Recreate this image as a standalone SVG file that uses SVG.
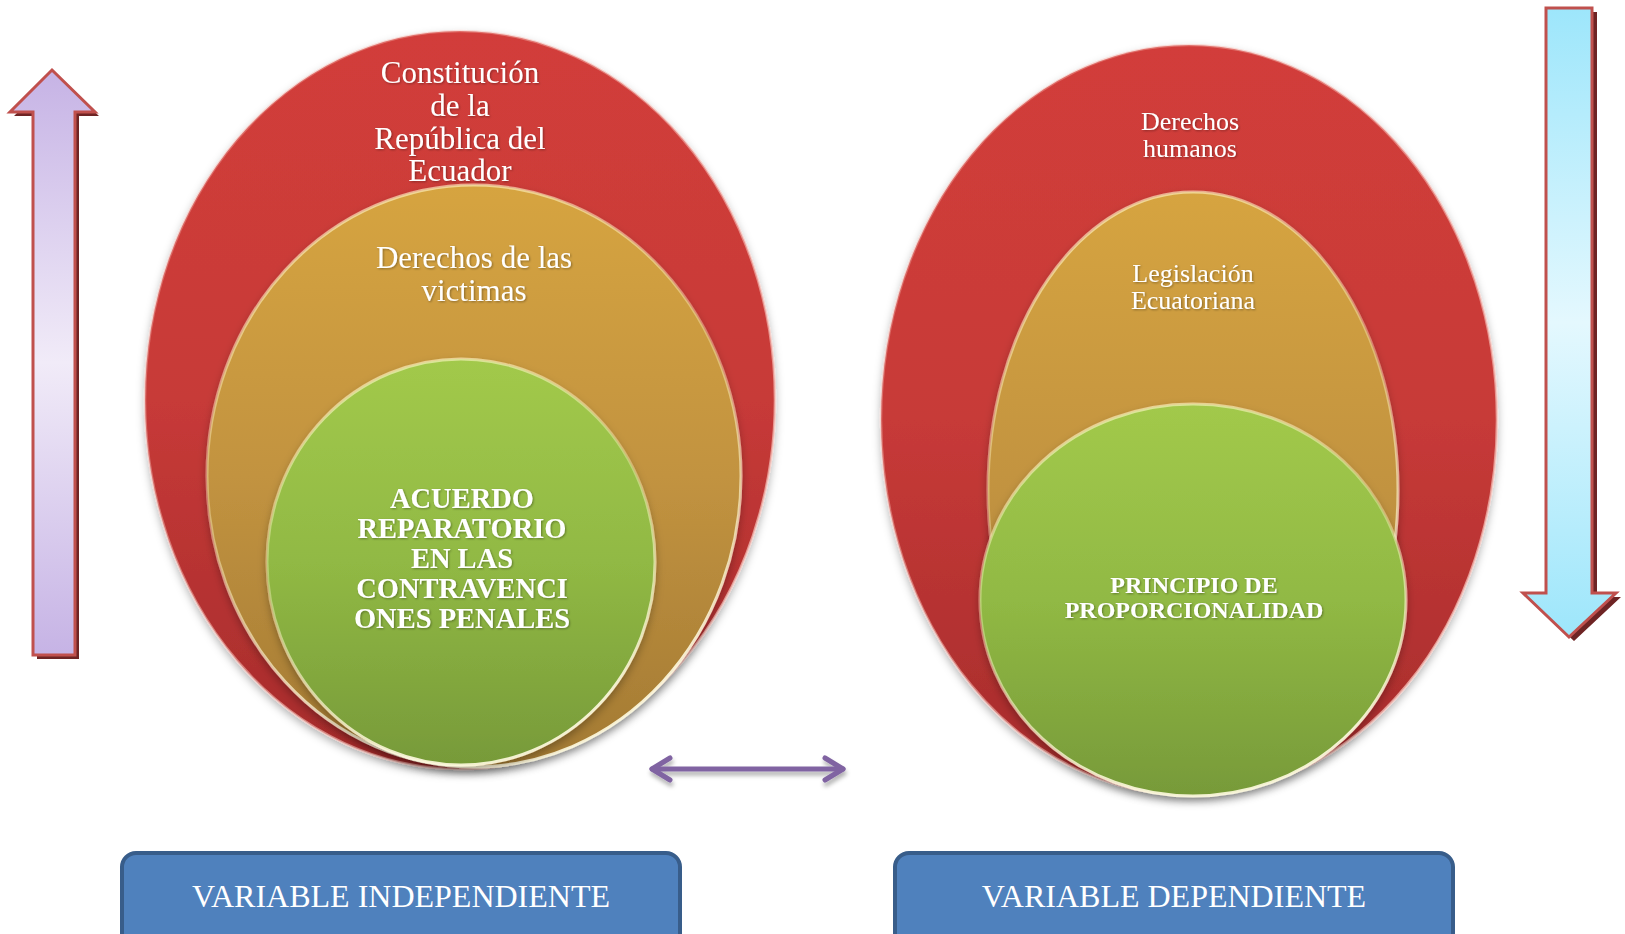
<svg xmlns="http://www.w3.org/2000/svg" width="1625" height="934" viewBox="0 0 1625 934">
<defs>
  <linearGradient id="gRed" x1="0" y1="0" x2="0" y2="1">
    <stop offset="0" stop-color="#D23D3A"/>
    <stop offset="0.5" stop-color="#C73A38"/>
    <stop offset="1" stop-color="#A52B2B"/>
  </linearGradient>
  <linearGradient id="gOrange" x1="0" y1="0" x2="0" y2="1">
    <stop offset="0" stop-color="#D6A440"/>
    <stop offset="0.5" stop-color="#C29340"/>
    <stop offset="1" stop-color="#A37A33"/>
  </linearGradient>
  <linearGradient id="gGreen" x1="0" y1="0" x2="0" y2="1">
    <stop offset="0" stop-color="#A2C94B"/>
    <stop offset="0.5" stop-color="#91B944"/>
    <stop offset="1" stop-color="#779A39"/>
  </linearGradient>
  <linearGradient id="gLav" x1="0" y1="0" x2="0" y2="1">
    <stop offset="0" stop-color="#C6B3E5"/>
    <stop offset="0.5" stop-color="#F1EBF8"/>
    <stop offset="1" stop-color="#C6B3E5"/>
  </linearGradient>
  <linearGradient id="gCyan" x1="0" y1="0" x2="0" y2="1">
    <stop offset="0" stop-color="#9DE6FB"/>
    <stop offset="0.5" stop-color="#E4F8FE"/>
    <stop offset="1" stop-color="#9DE6FB"/>
  </linearGradient>
  <linearGradient id="gRimWarm" x1="0" y1="0" x2="0.3" y2="1">
    <stop offset="0" stop-color="#FFF6C8" stop-opacity="0.7"/>
    <stop offset="0.5" stop-color="#FFF6C8" stop-opacity="0.35"/>
    <stop offset="1" stop-color="#FFFBE0" stop-opacity="0.9"/>
  </linearGradient>
  <linearGradient id="gRimRed" x1="0" y1="0" x2="1" y2="1">
    <stop offset="0" stop-color="#F4B0A8" stop-opacity="0.3"/>
    <stop offset="1" stop-color="#F8C8C0" stop-opacity="0.8"/>
  </linearGradient>
  <filter id="soft" x="-10%" y="-10%" width="120%" height="125%">
    <feDropShadow dx="0" dy="4" stdDeviation="4" flood-color="#000" flood-opacity="0.3"/>
  </filter>
  <filter id="tsh" x="-10%" y="-20%" width="120%" height="150%">
    <feDropShadow dx="1" dy="1" stdDeviation="1" flood-color="#000" flood-opacity="0.35"/>
  </filter>
  <filter id="lsh" x="-10%" y="-50%" width="120%" height="200%">
    <feDropShadow dx="1" dy="4" stdDeviation="2" flood-color="#000" flood-opacity="0.3"/>
  </filter>
</defs>
<style>
  .rim { stroke: url(#gRimWarm); stroke-width: 3; }
  .rimr { stroke: url(#gRimRed); stroke-width: 2.5; }
  .t { font-family: "Liberation Serif", "Times New Roman", serif; fill: #FFFFFF; text-anchor: middle; }
  .b { font-weight: bold; }
  .arrow { stroke: #C0504D; stroke-width: 3; stroke-linejoin: miter; }
  .ash { fill: #6E2424; }
  .box { fill: #4F81BD; stroke: #385D8A; stroke-width: 4; }
</style>

<g id="left-arrow">
  <polygon class="ash" points="56,75 99,116 79,116 79,659 37,659 37,116 14,116"/>
  <polygon class="arrow" fill="url(#gLav)" points="52,70 95,112 75,112 75,655 33,655 33,112 10,112"/>
</g>

<g id="right-arrow">
  <polygon class="ash" points="1551,12 1597,12 1597,597 1621,597 1574,641 1527,597 1551,597"/>
  <polygon class="arrow" fill="url(#gCyan)" points="1546,8 1592,8 1592,593 1616,593 1569,637 1523,593 1546,593"/>
</g>

<g id="left-outer">
  <ellipse cx="460" cy="400" rx="315" ry="369" fill="url(#gRed)" class="rimr" filter="url(#soft)"/>
  <text class="t" font-size="31" filter="url(#tsh)"><tspan x="460" y="83">Constitución</tspan><tspan x="460" y="116">de la</tspan><tspan x="460" y="149">República del</tspan><tspan x="460" y="181">Ecuador</tspan></text>
</g>
<g id="left-middle">
  <ellipse cx="474" cy="476" rx="267" ry="291" fill="url(#gOrange)" class="rim" filter="url(#soft)"/>
  <text class="t" font-size="31" filter="url(#tsh)"><tspan x="474" y="268">Derechos de las</tspan><tspan x="474" y="301">victimas</tspan></text>
</g>
<g id="left-inner">
  <ellipse cx="461" cy="562" rx="194" ry="203" fill="url(#gGreen)" class="rim" filter="url(#soft)"/>
  <text class="t b" font-size="28.5" filter="url(#tsh)"><tspan x="462" y="508">ACUERDO</tspan><tspan x="462" y="538">REPARATORIO</tspan><tspan x="462" y="568">EN LAS</tspan><tspan x="462" y="598">CONTRAVENCI</tspan><tspan x="462" y="628">ONES PENALES</tspan></text>
</g>

<g id="right-outer">
  <ellipse cx="1189" cy="420" rx="308" ry="375" fill="url(#gRed)" class="rimr" filter="url(#soft)"/>
  <text class="t" font-size="26" filter="url(#tsh)"><tspan x="1190" y="130">Derechos</tspan><tspan x="1190" y="157">humanos</tspan></text>
</g>
<g id="right-middle">
  <ellipse cx="1193" cy="490" rx="205" ry="298" fill="url(#gOrange)" class="rim" filter="url(#soft)"/>
  <text class="t" font-size="26" filter="url(#tsh)"><tspan x="1193" y="282">Legislación</tspan><tspan x="1193" y="309">Ecuatoriana</tspan></text>
</g>
<g id="right-inner">
  <ellipse cx="1193" cy="600" rx="213" ry="196" fill="url(#gGreen)" class="rim" filter="url(#soft)"/>
  <text class="t b" font-size="24" filter="url(#tsh)"><tspan x="1194" y="593">PRINCIPIO DE</tspan><tspan x="1194" y="618">PROPORCIONALIDAD</tspan></text>
</g>

<g id="connectors" filter="url(#lsh)">
  <g fill="none" stroke="#8064A2" stroke-width="5" stroke-linecap="round" stroke-linejoin="round">
    <line x1="652" y1="769" x2="843" y2="769"/>
    <polyline points="670,758 652,769 670,780"/>
    <polyline points="825,758 843,769 825,780"/>
  </g>
</g>

<g id="box-independiente">
  <rect class="box" x="122" y="853" width="558" height="95" rx="14" ry="14"/>
  <text class="t" font-size="32" x="401" y="907">VARIABLE INDEPENDIENTE</text>
</g>
<g id="box-dependiente">
  <rect class="box" x="895" y="853" width="558" height="95" rx="14" ry="14"/>
  <text class="t" font-size="32" x="1174" y="907">VARIABLE DEPENDIENTE</text>
</g>
</svg>
